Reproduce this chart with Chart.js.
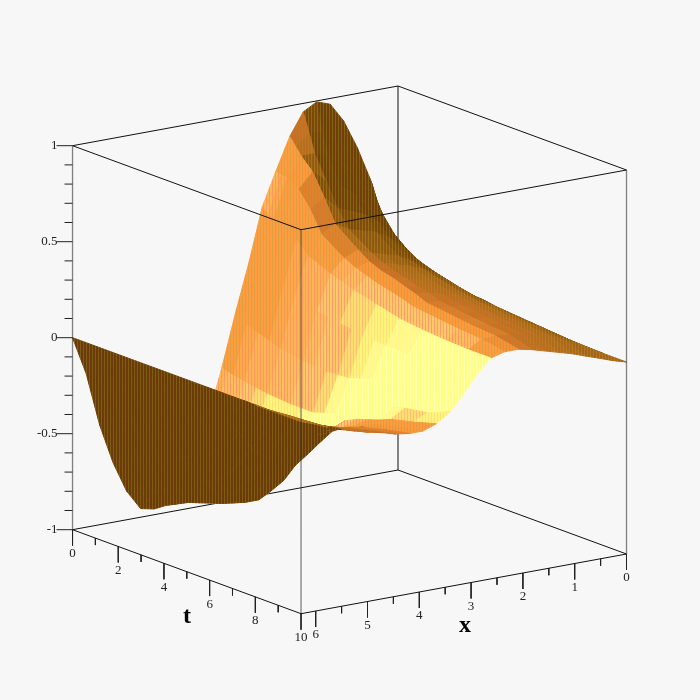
<!DOCTYPE html>
<html>
<head>
<meta charset="utf-8">
<title>u(x,t) surface</title>
<script src="https://cdn.jsdelivr.net/npm/chart.js@4"></script>
<style>
  html, body { margin: 0; padding: 0; background: #f7f7f7; }
  canvas { display: block; }
</style>
</head>
<body>
<canvas id="surface" width="700" height="700"></canvas>
<script>
// grid
const xValues = [0, 0.26, 0.52, 0.79, 1.05, 1.31, 1.57, 1.83, 2.09, 2.36, 2.62, 2.88, 3.14, 3.40, 3.67, 3.93, 4.19, 4.45, 4.71, 4.97, 5.24, 5.50, 5.76, 6.02, 6.283]
const tValues = [0, 0.25, 0.5, 1, 1.5, 2, 3, 3.5, 4, 4.5, 5, 5.5, 6, 6.5, 7, 7.5, 8, 9, 10]
const zRows = [
  [0, .29, .53, .72, .87, .97, .995, .955, .84, .67, .50, .22, -.03, -.30, -.55, -.72, -.84, -.93, -.97, -.955, -.85, -.69, -.48, -.20, 0],
  [0, .24, .44, .60, .72, .80, .85, .86, .80, .66, .47, .21, -.05, -.31, -.55, -.72, -.83, -.91, -.95, -.93, -.83, -.67, -.46, -.19, 0],
  [0, .20, .38, .51, .61, .69, .73, .76, .76, .66, .46, .20, -.07, -.32, -.55, -.71, -.82, -.89, -.93, -.91, -.81, -.65, -.44, -.18, 0],
  [0, .16, .30, .40, .48, .55, .60, .64, .70, .62, .43, .17, -.09, -.33, -.55, -.70, -.80, -.87, -.90, -.88, -.78, -.62, -.42, -.17, 0],
  [0, .13, .25, .34, .41, .46, .49, .52, .59, .54, .39, .15, -.11, -.34, -.55, -.69, -.78, -.84, -.87, -.85, -.75, -.60, -.40, -.16, 0],
  [0, .11, .21, .29, .35, .39, .41, .43, .47, .43, .33, .12, -.13, -.35, -.54, -.67, -.76, -.82, -.85, -.82, -.72, -.57, -.38, -.15, 0],
  [0, .09, .17, .23, .27, .31, .33, .35, .38, .35, .28, .10, -.15, -.36, -.53, -.65, -.74, -.79, -.81, -.78, -.68, -.53, -.35, -.14, 0],
  [0, .08, .155, .215, .25, .28, .30, .32, .34, .32, .26, .09, -.155, -.36, -.525, -.645, -.73, -.775, -.785, -.75, -.65, -.505, -.33, -.13, 0],
  [0, .07, .14, .20, .235, .26, .28, .30, .315, .30, .24, .08, -.16, -.36, -.52, -.64, -.72, -.76, -.76, -.72, -.62, -.48, -.31, -.12, 0],
  [0, .068, .13, .185, .22, .245, .265, .285, .30, .28, .225, .07, -.155, -.34, -.49, -.57, -.65, -.695, -.69, -.65, -.56, -.43, -.275, -.11, 0],
  [0, .065, .125, .17, .205, .23, .25, .265, .28, .265, .21, .06, -.15, -.32, -.43, -.50, -.55, -.59, -.60, -.56, -.48, -.37, -.24, -.10, 0],
  [0, .06, .115, .16, .195, .22, .235, .25, .26, .25, .195, .055, -.13, -.27, -.37, -.42, -.44, -.47, -.48, -.45, -.385, -.295, -.19, -.085, 0],
  [0, .055, .11, .155, .185, .21, .22, .23, .235, .23, .18, .05, -.11, -.23, -.30, -.33, -.345, -.36, -.365, -.34, -.29, -.22, -.145, -.07, 0],
  [0, .052, .105, .147, .178, .20, .212, .222, .228, .222, .172, .05, -.10, -.21, -.27, -.30, -.31, -.31, -.30, -.28, -.24, -.185, -.12, -.06, 0],
  [0, .05, .10, .14, .17, .19, .205, .215, .22, .215, .165, .05, -.09, -.19, -.25, -.27, -.27, -.265, -.25, -.23, -.195, -.15, -.10, -.05, 0],
  [0, .047, .095, .132, .162, .182, .197, .207, .212, .207, .16, .05, -.085, -.175, -.23, -.245, -.245, -.237, -.222, -.20, -.172, -.132, -.09, -.045, 0],
  [0, .045, .09, .125, .155, .175, .19, .20, .205, .20, .155, .05, -.08, -.16, -.205, -.22, -.22, -.21, -.195, -.175, -.15, -.115, -.08, -.04, 0],
  [0, .04, .08, .115, .145, .165, .18, .19, .195, .19, .15, .05, -.07, -.14, -.175, -.19, -.19, -.18, -.165, -.15, -.125, -.10, -.065, -.03, 0],
  [0, .02, .045, .07, .095, .115, .135, .155, .17, .17, .15, .08, -.01, -.09, -.14, -.165, -.165, -.155, -.135, -.12, -.10, -.08, -.055, -.025, 0]
]

const xTicks = [0, 1, 2, 3, 4, 5, 6]
const xMinorTicks = [0.5, 1.5, 2.5, 3.5, 4.5, 5.5]
const tTicks = [0, 2, 4, 6, 8, 10]
const tMinorTicks = [1, 3, 5, 7, 9]
const zTicks = [-1, -0.5, 0, 0.5, 1]
const zMinorTicks = [-0.9, -0.8, -0.7, -0.6, -0.4, -0.3, -0.2, -0.1, 0.1, 0.2, 0.3, 0.4, 0.6, 0.7, 0.8, 0.9]

const xMax = 6.283
const tMax = 10

// view of the box: the far corner (x=0, t=0, z=0) and where one unit goes
function project(x, t, z) {
  return {
    x: 398 + 22.85 * t - 51.8 * x,
    y: 278 + 8.4 * t + 9.5 * x - 192 * z
  }
}

// light level -> main colour, stripe colour
const stops = [
  [-0.1, [112, 62, 8], [130, 100, 16]],
  [0.15, [130, 78, 12], [150, 110, 20]],
  [0.35, [168, 108, 28], [190, 120, 30]],
  [0.5, [205, 112, 36], [190, 120, 40]],
  [0.68, [255, 152, 56], [225, 150, 60]],
  [0.85, [255, 156, 64], [222, 160, 64]],
  [0.875, [255, 180, 85], [255, 150, 90]],
  [0.9, [255, 200, 104], [255, 156, 104]],
  [0.925, [255, 245, 125], [255, 225, 120]],
  [0.945, [255, 255, 136], [255, 255, 176]]
]

function shadeColor(s, slot) {
  if (s <= stops[0][0]) return stops[0][slot]
  for (let i = 1; i < stops.length; i++) {
    if (s <= stops[i][0]) {
      const k = (s - stops[i - 1][0]) / (stops[i][0] - stops[i - 1][0])
      return stops[i][slot].map((c, j) => Math.round(stops[i - 1][slot][j] + (c - stops[i - 1][slot][j]) * k))
    }
  }
  return stops[stops.length - 1][slot]
}

// the reference has fine vertical stripes all over the surface
const patterns = {}
function stripePattern(base, stripe) {
  const key = base.join() + '|' + stripe.join()
  if (patterns[key]) return patterns[key]
  const c = document.createElement('canvas')
  c.width = 3
  c.height = 1
  const g = c.getContext('2d')
  g.fillStyle = `rgb(${base.join()})`
  g.fillRect(0, 0, 3, 1)
  g.fillStyle = `rgb(${stripe.join()})`
  g.fillRect(2, 0, 1, 1)
  patterns[key] = g.createPattern(c, 'repeat')
  return patterns[key]
}

const light = [0.72, -0.3, 0.62]

function cellDataset(i, j) {
  const row = zRows[j], next = zRows[j + 1]
  const a = project(xValues[i], tValues[j], row[i])
  const b = project(xValues[i + 1], tValues[j], row[i + 1])
  const c = project(xValues[i + 1], tValues[j + 1], next[i + 1])
  const d = project(xValues[i], tValues[j + 1], next[i])

  // slopes over the neighbouring cells too, so the shading does not go blocky
  const i0 = Math.max(i - 1, 0), i1 = Math.min(i + 2, xValues.length - 1)
  const j0 = Math.max(j - 1, 0), j1 = Math.min(j + 2, tValues.length - 1)
  const p = ((row[i1] - row[i0]) + (next[i1] - next[i0])) / 2 / (xValues[i1] - xValues[i0])
  const q = ((zRows[j1][i] - zRows[j0][i]) + (zRows[j1][i + 1] - zRows[j0][i + 1])) / 2 / (tValues[j1] - tValues[j0])

  const cross = (c.x - a.x) * (d.y - b.y) - (c.y - a.y) * (d.x - b.x)
  let fill
  if (cross > 0) {
    fill = stripePattern([106, 58, 8], [126, 92, 16])
  } else {
    const nx = -Math.PI * p, nt = -5 * q, len = Math.hypot(nx, nt, 1)
    const s = (nx * light[0] + nt * light[1] + light[2]) / len
    const step = Math.round(s * 80) / 80
    fill = stripePattern(shadeColor(step, 1), shadeColor(step, 2))
  }
  return {
    data: [a, b, c, d, a],
    showLine: true,
    fill: 'shape',
    tension: 0,
    pointRadius: 0,
    borderWidth: 1,
    borderColor: fill,
    backgroundColor: fill
  }
}

function lineDataset(segments, color, width) {
  const data = []
  segments.forEach(s => {
    data.push(s[0], s[1], { x: NaN, y: NaN })
  })
  return { data, showLine: true, fill: false, tension: 0, pointRadius: 0, borderWidth: width, borderColor: color, spanGaps: false }
}

function edge(a, b) {
  return [project(a[0], a[1], a[2]), project(b[0], b[1], b[2])]
}

function down(point, len) {
  return [point, { x: point.x, y: point.y + len }]
}

function left(point, len) {
  return [point, { x: point.x - len, y: point.y }]
}

const frontLines = [
  edge([xMax, 0, -1], [xMax, tMax, -1]),
  edge([xMax, tMax, -1], [0, tMax, -1]),
  edge([xMax, 0, 1], [xMax, tMax, 1]),
  edge([xMax, tMax, 1], [0, tMax, 1])
]
const frontPosts = [
  edge([xMax, 0, -1], [xMax, 0, 1]),
  edge([xMax, tMax, -1], [xMax, tMax, 1]),
  edge([0, tMax, -1], [0, tMax, 1])
]
const backLines = [
  edge([0, 0, -1], [0, 0, 1]),
  edge([0, 0, 1], [xMax, 0, 1]),
  edge([0, 0, 1], [0, tMax, 1]),
  edge([0, 0, -1], [xMax, 0, -1]),
  edge([0, 0, -1], [0, tMax, -1])
]
const tickLines = [
  ...tTicks.map(t => down(project(xMax, t, -1), 16)),
  ...tMinorTicks.map(t => down(project(xMax, t, -1), 7)),
  ...xTicks.map(x => down(project(x, tMax, -1), 16)),
  ...xMinorTicks.map(x => down(project(x, tMax, -1), 7)),
  ...zTicks.map(z => left(project(xMax, 0, z), 16)),
  ...zMinorTicks.map(z => left(project(xMax, 0, z), 8))
]

// index 0 is painted last, so nearest things go first
const datasets = [
  lineDataset(frontLines, '#111', 1),
  lineDataset(frontPosts, 'rgba(50,50,50,0.6)', 1.3),
  lineDataset(tickLines, '#222', 1)
]
for (let j = tValues.length - 2; j >= 0; j--) {
  for (let i = xValues.length - 2; i >= 0; i--) {
    datasets.push(cellDataset(i, j))
  }
}
datasets.push(lineDataset(backLines, '#111', 1))

const axisText = {
  id: 'axisText',
  afterDraw(chart) {
    const { ctx, scales } = chart
    const at = p => ({ x: scales.x.getPixelForValue(p.x), y: scales.y.getPixelForValue(p.y) })
    ctx.save()
    ctx.fillStyle = '#222'
    ctx.font = '13px "Liberation Serif"'
    ctx.textBaseline = 'middle'
    ctx.textAlign = 'right'
    zTicks.forEach(z => {
      const p = at(project(xMax, 0, z))
      ctx.fillText(String(z), p.x - 15, p.y)
    })
    ctx.textAlign = 'center'
    tTicks.forEach(t => {
      const p = at(project(xMax, t, -1))
      ctx.fillText(String(t), p.x, p.y + 24)
    })
    xTicks.forEach(x => {
      const p = at(project(x, tMax, -1))
      ctx.fillText(String(x), p.x, p.y + 24)
    })
    ctx.fillStyle = '#000'
    ctx.font = 'bold 24px "Liberation Serif"'
    ctx.fillText('t', 187, 617)
    ctx.fillText('x', 465, 626)
    ctx.restore()
  }
}

new Chart(document.getElementById('surface'), {
  type: 'scatter',
  data: { datasets },
  plugins: [axisText],
  options: {
    responsive: false,
    animation: false,
    layout: { padding: 0 },
    events: [],
    plugins: { legend: { display: false }, tooltip: { enabled: false } },
    scales: {
      x: { type: 'linear', min: 0, max: 700, display: false },
      y: { type: 'linear', min: 0, max: 700, reverse: true, display: false }
    }
  }
})
</script>
</body>
</html>
